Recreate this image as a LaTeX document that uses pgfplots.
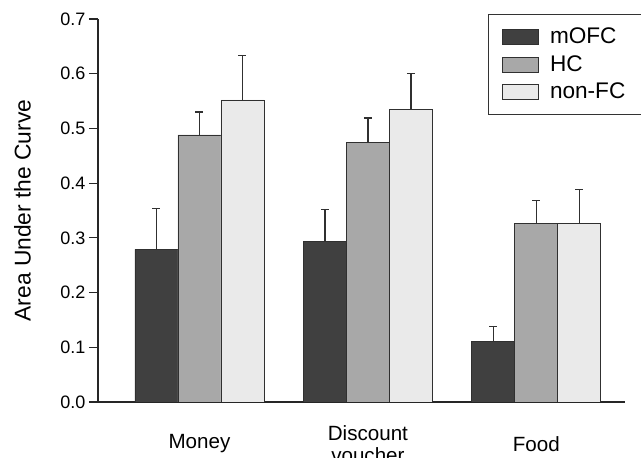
\documentclass[border=0pt]{standalone}
\usepackage{fontspec}
\setmainfont{Liberation Sans}
\usepackage{pgfplots}
\pgfplotsset{compat=1.18}
\definecolor{cA}{HTML}{404040}
\definecolor{cB}{HTML}{A8A8A8}
\definecolor{cC}{HTML}{EAEAEA}
\definecolor{edge}{HTML}{303030}
\pgfplotsset{legimg/.style={legend image code/.code={\draw[##1, line width=1pt] (0pt,-7.5pt) rectangle (36pt,7.5pt);}}}
\begin{document}
\begin{tikzpicture}
\begin{axis}[
  at={(0pt,0pt)}, anchor=south west,
  scale only axis, width=527pt, height=383pt,
  xmin=-0.602, xmax=2.526, ymin=0, ymax=0.7,
  ybar=0pt, bar width=43pt,
  axis x line=bottom, axis y line=left,
  axis line style={-, line width=1.5pt, black!85},
  xtick={0,1,2}, xticklabels={Money,{Discount\\voucher},Food},
  x tick style={draw=none},
  x tick label style={align=center, anchor=center, yshift=-33pt, font=\fontsize{20.6}{22.5}\selectfont},
  ytick={0,0.1,0.2,0.3,0.4,0.5,0.6,0.7},
  y tick style={line width=1.2pt, black!85},
  tick align=outside, major tick length=9pt,
  /pgf/number format/fixed, /pgf/number format/fixed zerofill, /pgf/number format/precision=1, /pgf/number format/assume math mode=true,
  y tick label style={font=\fontsize{18}{20}\selectfont},
  ylabel={Area Under the Curve},
  ylabel style={at={(axis description cs:-0.1433,0.5)}, anchor=center, font=\fontsize{22.8}{26}\selectfont},
  legend style={at={(1.032,1.013)}, anchor=north east, draw=black!80, line width=1pt,
    inner xsep=14pt, inner ysep=10pt, row sep=2.5pt,
    nodes={inner sep=2pt, text height=17pt, text depth=4pt},
    /tikz/every odd column/.append style={column sep=9pt},
    font=\fontsize{22.6}{25}\selectfont},
  legend cell align=left,
  error bars/y dir=plus, error bars/y explicit,
  error bars/error bar style={line width=1.2pt, edge},
  error bars/error mark options={rotate=90, mark size=4pt, line width=1.2pt, edge},
]
\addplot[fill=cA, draw=edge, line width=0.8pt, legimg] coordinates {
  (0,0.279) +- (0,0.074)
  (1,0.293) +- (0,0.059)
  (2,0.111) +- (0,0.027)
};
\addplot[fill=cB, draw=edge, line width=0.8pt, legimg] coordinates {
  (0,0.488) +- (0,0.042)
  (1,0.475) +- (0,0.044)
  (2,0.327) +- (0,0.041)
};
\addplot[fill=cC, draw=edge, line width=0.8pt, legimg] coordinates {
  (0,0.552) +- (0,0.081)
  (1,0.535) +- (0,0.065)
  (2,0.327) +- (0,0.061)
};
\legend{mOFC,HC,non-FC}
\end{axis}
\pgfresetboundingbox
\path (-98pt,-56pt) rectangle (543pt,402pt);
\end{tikzpicture}
\end{document}
